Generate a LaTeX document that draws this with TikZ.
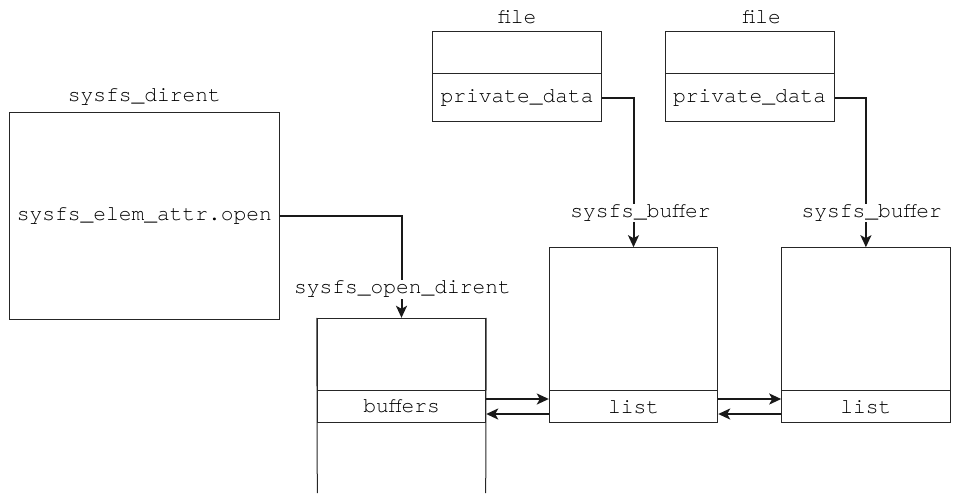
\documentclass[tikz,border=0pt]{standalone}
\usepackage{fontspec}
\newfontfamily\monofnt{TeX Gyre Cursor}
\usetikzlibrary{arrows.meta}
\tikzset{
  fld/.style={draw=black!85, line width=1pt, rectangle, inner sep=0pt, font=\monofnt\fontsize{21.25}{24}\selectfont, minimum width=168.4pt},
  lbl/.style={inner sep=1pt, font=\monofnt\fontsize{21.25}{24}\selectfont},
  lblw/.style={lbl, fill=white},
  conn/.style={draw=black!90, line width=2pt, -{Stealth[length=12pt,width=11pt,inset=3pt]}},
  side/.style={draw=black!85, line width=1pt}
}
\begin{document}
\begin{tikzpicture}[x=1pt,y=-1pt]
\useasboundingbox (0,0) rectangle (955,493);
% sysfs_dirent
\node[fld, minimum width=270pt, minimum height=206.7pt] (sd) at (144.3,215.7) {sysfs\_elem\_attr.open};
\node[lbl] (sdl) at (144.3,96.7) {sysfs\_dirent};
% sysfs_open_dirent
\node[fld, minimum height=72.4pt] (odtop) at (401.5,354.5) {};
\node[fld, minimum height=32pt] (buf) at (401.5,406.7) {buffers};
\coordinate (odbl) at (317.3,493);
\coordinate (odbr) at (485.7,493);
\draw[side] (odtop.north west) -- (odbl);
\draw[side] (odtop.north east) -- (odbr);
% files
\node[fld, minimum width=169pt, minimum height=41.6pt] (f1h) at (517.2,52.5) {};
\node[fld, minimum width=169pt, minimum height=48.4pt] (f1p) at (517.2,97.5) {private\_data};
\node[lbl] (f1l) at (517.2,16.7) {file};
\node[fld, minimum width=169pt, minimum height=41.6pt] (f2h) at (749.5,52.5) {};
\node[fld, minimum width=169pt, minimum height=48.4pt] (f2p) at (749.5,97.5) {private\_data};
\node[lbl] (f2l) at (761.7,16.7) {file};
% buffers
\node[fld, minimum height=143pt] (b1top) at (633.5,319.2) {};
\node[fld, minimum height=32pt] (b1l) at (633.5,406.7) {list};
\node[fld, minimum height=143pt] (b2top) at (865.9,319.2) {};
\node[fld, minimum height=32pt] (b2l) at (865.9,406.7) {list};
% connectors
\draw[conn] (sd.east) -| (odtop.north);
\draw[conn] (f1p.east) -| (b1top.north);
\draw[conn] (f2p.east) -| (b2top.north);
\node[lblw] (odl) at (402.5,289.3) {sysfs\_open\_dirent};
\node[lblw] (b1lab) at (640.5,213) {sysfs\_buffer};
\node[lblw] (b2lab) at (871.7,213) {sysfs\_buffer};
% list links
\draw[conn] ([yshift=7.7pt]buf.east) -- ([yshift=7.7pt]b1l.west);
\draw[conn] ([yshift=-7.3pt]b1l.west) -- ([yshift=-7.3pt]buf.east);
\draw[conn] ([yshift=7.7pt]b1l.east) -- ([yshift=7.7pt]b2l.west);
\draw[conn] ([yshift=-7.3pt]b2l.west) -- ([yshift=-7.3pt]b1l.east);
\end{tikzpicture}
\end{document}
